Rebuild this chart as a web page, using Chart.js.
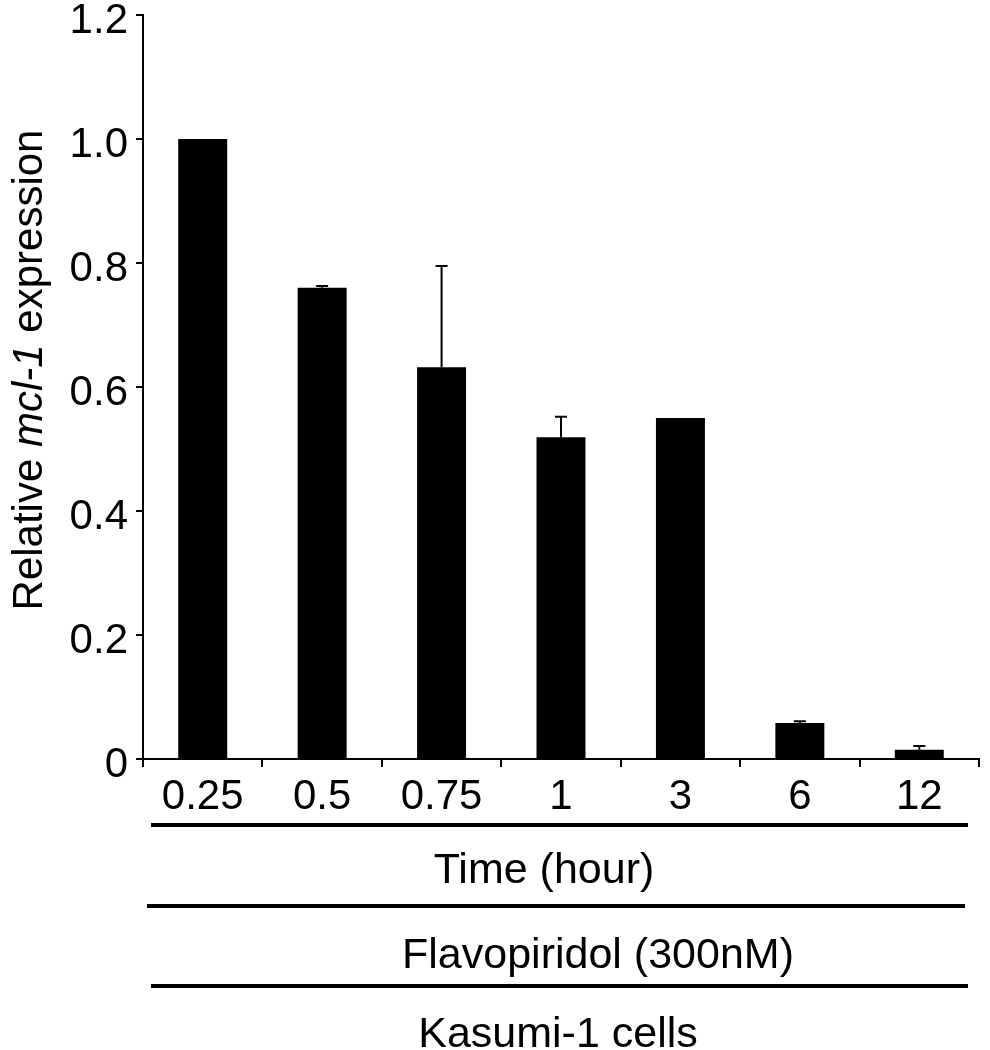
<!DOCTYPE html>
<html>
<head>
<meta charset="utf-8">
<script src="https://cdn.jsdelivr.net/npm/chart.js@4.4.1/dist/chart.umd.min.js"></script>
<style>
  html, body { margin:0; padding:0; background:#fff; }
  #wrap { width:990px; height:1050px; }
</style>
</head>
<body>
<div id="wrap"><canvas id="chart" width="990" height="1050"></canvas></div>
<script>
// data
const timeLabels = ["0.25", "0.5", "0.75", "1", "3", "6", "12"];
const mcl1Expression = [1.0, 0.76, 0.632, 0.519, 0.55, 0.058, 0.015];
const mcl1ErrorUp = [0, 0.003, 0.163, 0.033, 0, 0.003, 0.006];
const yMin = 0, yMax = 1.2, yStep = 0.2;
const yTitleParts = [["Relative ", "normal"], ["mcl-1", "italic"], [" expression", "normal"]];
const groupLabels = ["Time (hour)", "Flavopiridol (300nM)", "Kasumi-1 cells"];

const FONT = "'Liberation Sans', Arial, Helvetica, sans-serif";
const FSIZE = 42;

// simple upper error bars
const errorBars = {
    id: "errorBars",
    afterDatasetsDraw(chart){
        const ctx = chart.ctx;
        const y = chart.scales.y;
        const meta = chart.getDatasetMeta(0);
        ctx.save();
        ctx.strokeStyle = "#000";
        ctx.lineWidth = 2;
        meta.data.forEach((bar, i) => {
            const e = mcl1ErrorUp[i];
            if(!e) return;
            const top = y.getPixelForValue(mcl1Expression[i] + e);
            ctx.beginPath();
            ctx.moveTo(bar.x, bar.y);
            ctx.lineTo(bar.x, top);
            ctx.moveTo(bar.x - 6, top);
            ctx.lineTo(bar.x + 6, top);
            ctx.stroke();
        });
        ctx.restore();
    }
};

// y title with italic gene name, plus the group lines under the axis
const annotations = {
    id: "annotations",
    afterDraw(chart){
        const ctx = chart.ctx;
        ctx.save();
        ctx.fillStyle = "#000";

        // y axis title
        ctx.translate(42, 370);
        ctx.rotate(-Math.PI/2);
        ctx.textBaseline = "alphabetic";
        ctx.textAlign = "left";
        let total = 0;
        yTitleParts.forEach(p => {
            ctx.font = `${p[1]} ${FSIZE}px ${FONT}`;
            total += ctx.measureText(p[0]).width;
        });
        let x = -total/2;
        yTitleParts.forEach(p => {
            ctx.font = `${p[1]} ${FSIZE}px ${FONT}`;
            ctx.fillText(p[0], x, 0);
            x += ctx.measureText(p[0]).width;
        });
        ctx.setTransform(1, 0, 0, 1, 0, 0);

        // separator lines
        ctx.strokeStyle = "#000";
        ctx.lineWidth = 4;
        [[151, 968, 825], [147, 965, 906], [151, 968, 986]].forEach(l => {
            ctx.beginPath();
            ctx.moveTo(l[0], l[2]);
            ctx.lineTo(l[1], l[2]);
            ctx.stroke();
        });

        // group labels
        ctx.font = `43px ${FONT}`;
        ctx.textAlign = "center";
        ctx.fillText(groupLabels[0], 544, 883);
        ctx.fillText(groupLabels[1], 598, 968);
        ctx.fillText(groupLabels[2], 558, 1047);
        ctx.restore();
    }
};

new Chart(document.getElementById("chart"), {
    type: "bar",
    data: {
        labels: timeLabels,
        datasets: [{
            data: mcl1Expression,
            backgroundColor: "#000",
            borderWidth: 0,
            barPercentage: 0.41,
            categoryPercentage: 1.0
        }]
    },
    options: {
        responsive: false,
        animation: false,
        devicePixelRatio: 1,
        layout: { padding: { top: 15, right: 11, bottom: 0, left: 0 } },
        plugins: { legend: { display: false }, tooltip: { enabled: false } },
        scales: {
            x: {
                grid: { drawOnChartArea: false, tickLength: 8, lineWidth: 2, color: "#000" },
                border: { color: "#000", width: 2 },
                ticks: { color: "#000", font: { family: FONT, size: FSIZE }, padding: 5, maxRotation: 0 },
                afterFit(scale){ scale.height = 291; }
            },
            y: {
                min: yMin,
                max: yMax,
                grid: { drawOnChartArea: false, tickLength: 7, lineWidth: 2, color: "#000" },
                border: { color: "#000", width: 2 },
                ticks: {
                    stepSize: yStep,
                    color: "#000",
                    font: { family: FONT, size: FSIZE },
                    padding: 8,
                    labelOffset: 6,
                    callback: v => v === 0 ? "0" : Number(v).toFixed(1)
                },
                afterFit(scale){
                    scale.width = 143;
                    scale.paddingTop = 0;
                    scale.paddingBottom = 0;
                }
            }
        }
    },
    plugins: [errorBars, annotations]
});
</script>
</body>
</html>
